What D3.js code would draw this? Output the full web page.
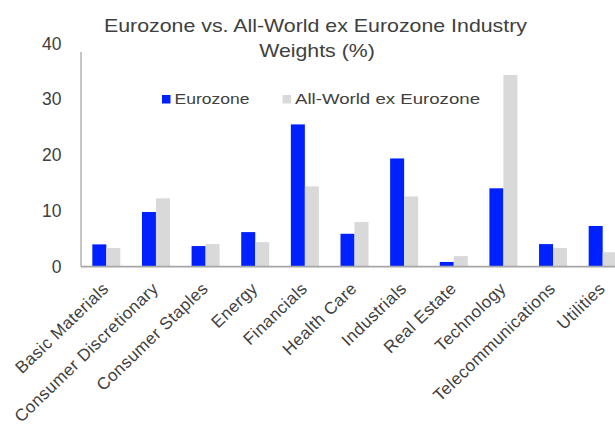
<!DOCTYPE html>
<html>
<head>
<meta charset="utf-8">
<script src="https://cdn.jsdelivr.net/npm/d3@7"></script>
<style>
  html, body { margin: 0; padding: 0; background: #fff; }
  svg { display: block; font-family: "Liberation Sans", Arial, sans-serif; }
</style>
</head>
<body>
<svg id="chart" width="615" height="428"></svg>
<script>
const categories = ["Basic Materials", "Consumer Discretionary", "Consumer Staples", "Energy", "Financials",
  "Health Care", "Industrials", "Real Estate", "Technology", "Telecommunications", "Utilities"];
const seriesNames = ["Eurozone", "All-World ex Eurozone"];
const eurozone = [4.0, 9.8, 3.7, 6.2, 25.5, 5.9, 19.4, 0.85, 14.05, 4.05, 7.3];
const allWorld = [3.35, 12.25, 4.05, 4.4, 14.4, 8.0, 12.6, 1.9, 34.35, 3.35, 2.6];
const yTicks = [0, 10, 20, 30, 40];
const titleLines = ["Eurozone vs. All-World ex Eurozone Industry", "Weights (%)"];

const colors = ["#0021ff", "#d9d9d9"];
const textColor = "#404040";
const svg = d3.select("#chart");

const x0 = d3.scaleBand().domain(categories).range([81.5, 627.5]).paddingInner(0.436).paddingOuter(0.218);
const x1 = d3.scaleBand().domain(seriesNames).range([0, x0.bandwidth()]);
const y = d3.scaleLinear().domain([0, 40]).range([266.7, 43.5]);

const rows = categories.map((c, i) => ({ cat: c, vals: [eurozone[i], allWorld[i]] }));

// bars
const g = svg.append("g");
rows.forEach(r => {
  r.vals.forEach((v, j) => {
    g.append("rect")
      .attr("x", x0(r.cat) + x1(seriesNames[j]))
      .attr("y", y(v))
      .attr("width", x1.bandwidth())
      .attr("height", y(0) - y(v))
      .attr("fill", colors[j]);
  });
});

// y axis
const yAxis = svg.append("g").attr("transform", "translate(81,0)")
  .call(d3.axisLeft(y).tickValues(yTicks).tickSize(0).tickPadding(19.5).tickFormat(d3.format("d")));
yAxis.select(".domain").remove();
yAxis.selectAll("text").attr("fill", textColor).style("font-size", "17.5px")
  .style("font-family", "'Liberation Sans', Arial, sans-serif");
svg.append("line").attr("x1", 81).attr("x2", 81).attr("y1", 52).attr("y2", y(0))
  .attr("stroke", "#8c8c8c").attr("stroke-width", 1);

// x axis
const xAxis = svg.append("g").attr("transform", `translate(0,${y(0)})`)
  .call(d3.axisBottom(x0).tickSize(0).tickPadding(0));
xAxis.select(".domain").remove();
svg.append("line").attr("x1", 81).attr("x2", 615).attr("y1", y(0)).attr("y2", y(0))
  .attr("stroke", "#a6a6a6").attr("stroke-width", 1.8);
xAxis.selectAll(".tick text")
  .attr("text-anchor", "end")
  .attr("x", 0).attr("y", 0).attr("dy", 0)
  .attr("transform", "translate(3.5,23) rotate(-44)")
  .attr("fill", textColor)
  .style("font-size", "17px")
  .style("letter-spacing", "0.45px")
  .style("font-family", "'Liberation Sans', Arial, sans-serif");

// title
svg.append("text").attr("x", 315.5).attr("y", 32.3).attr("text-anchor", "middle")
  .attr("fill", textColor).style("font-size", "19px")
  .attr("textLength", 423).attr("lengthAdjust", "spacingAndGlyphs").text(titleLines[0]);
svg.append("text").attr("x", 317).attr("y", 56.7).attr("text-anchor", "middle")
  .attr("fill", textColor).style("font-size", "19px")
  .attr("textLength", 115.5).attr("lengthAdjust", "spacingAndGlyphs").text(titleLines[1]);

// legend
const legendX = [162, 282.5];
const legendW = [75, 185];
seriesNames.forEach((s, j) => {
  svg.append("rect").attr("x", legendX[j]).attr("y", 95).attr("width", 8.5).attr("height", 8.5).attr("fill", colors[j]);
  svg.append("text").attr("x", legendX[j] + 12.5).attr("y", 103.8)
    .attr("fill", textColor).style("font-size", "15.5px")
    .attr("textLength", legendW[j]).attr("lengthAdjust", "spacingAndGlyphs").text(s);
});
</script>
</body>
</html>
